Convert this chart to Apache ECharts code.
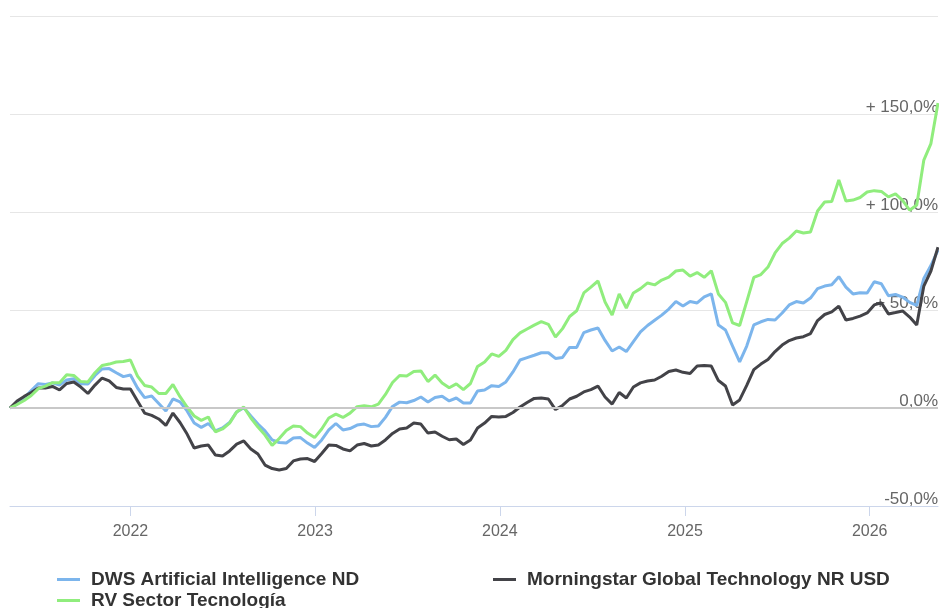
<!DOCTYPE html>
<html>
<head>
<meta charset="utf-8">
<script src="https://cdn.jsdelivr.net/npm/echarts@6/dist/echarts.min.js"></script>
<style>
html,body{margin:0;padding:0;background:#fff;}
#chart{width:939px;height:608px;}
</style>
</head>
<body>
<div id="chart"></div>
<script>
// Biweekly observation dates
var dates = [
"2021-05-08","2021-05-22","2021-06-05","2021-06-19","2021-07-03","2021-07-17","2021-07-31","2021-08-14","2021-08-28","2021-09-11",
"2021-09-25","2021-10-09","2021-10-23","2021-11-06","2021-11-20","2021-12-04","2021-12-18","2022-01-01","2022-01-15","2022-01-29",
"2022-02-12","2022-02-26","2022-03-12","2022-03-26","2022-04-09","2022-04-23","2022-05-07","2022-05-21","2022-06-04","2022-06-18",
"2022-07-02","2022-07-16","2022-07-30","2022-08-13","2022-08-27","2022-09-10","2022-09-24","2022-10-08","2022-10-22","2022-11-05",
"2022-11-19","2022-12-03","2022-12-17","2022-12-31","2023-01-14","2023-01-28","2023-02-11","2023-02-25","2023-03-11","2023-03-25",
"2023-04-08","2023-04-22","2023-05-06","2023-05-20","2023-06-03","2023-06-17","2023-07-01","2023-07-15","2023-07-29","2023-08-12",
"2023-08-26","2023-09-09","2023-09-23","2023-10-07","2023-10-21","2023-11-04","2023-11-18","2023-12-02","2023-12-16","2023-12-30",
"2024-01-13","2024-01-27","2024-02-10","2024-02-24","2024-03-09","2024-03-23","2024-04-06","2024-04-20","2024-05-04","2024-05-18",
"2024-06-01","2024-06-15","2024-06-29","2024-07-13","2024-07-27","2024-08-10","2024-08-24","2024-09-07","2024-09-21","2024-10-05",
"2024-10-19","2024-11-02","2024-11-16","2024-11-30","2024-12-14","2024-12-28","2025-01-11","2025-01-25","2025-02-08","2025-02-22",
"2025-03-08","2025-03-22","2025-04-05","2025-04-19","2025-05-03","2025-05-17","2025-05-31","2025-06-14","2025-06-28","2025-07-12",
"2025-07-26","2025-08-09","2025-08-23","2025-09-06","2025-09-20","2025-10-04","2025-10-18","2025-11-01","2025-11-15","2025-11-29",
"2025-12-13","2025-12-27","2026-01-10","2026-01-24","2026-02-07","2026-02-21","2026-03-07","2026-03-21","2026-04-04","2026-04-18",
"2026-05-02","2026-05-16"
];

var seriesNames = ["DWS Artificial Intelligence ND", "Morningstar Global Technology NR USD", "RV Sector Tecnología"];

var dwsValues = [
0,2.0,5.1,8.9,12.4,12.0,12.8,11.7,14.3,14.9,
12.4,12.2,16.6,19.9,20.1,18.0,16.0,16.8,10.2,5.3,
6.1,2.3,-1.5,4.6,3.1,-1.5,-7.7,-9.9,-7.9,-11.7,
-10.2,-7.4,-2.0,0.2,-4.1,-8.2,-11.7,-16.3,-17.6,-17.9,
-15.3,-15.1,-17.9,-20.2,-16.3,-11.2,-7.9,-11.2,-10.5,-8.7,
-8.2,-9.5,-9.2,-4.8,0.8,3.0,2.7,3.8,5.6,3.1,
5.4,6.0,3.6,5.1,2.6,2.6,8.7,9.2,11.4,11.0,
13.3,18.4,24.5,25.7,26.9,28.2,28.2,25.3,25.8,30.9,
30.9,38.5,39.8,40.8,34.5,29.1,31.1,28.8,33.9,38.8,
42.1,44.8,47.4,50.5,54.3,52.0,54.3,53.6,56.7,58.2,
42.3,39.8,31.6,23.5,31.6,42.4,44.0,45.2,44.9,48.5,
52.6,54.3,53.6,56.1,60.9,62.2,62.9,67.0,61.7,58.2,
58.8,58.7,64.4,63.4,57.3,57.9,56.6,53.9,52.4,66.1,
72.7,80.6
];

var msValues = [
0,3.6,5.9,7.9,10.2,10.2,11.0,9.2,12.5,13.3,
10.7,7.4,11.7,15.3,13.8,10.5,9.7,9.7,3.6,-2.6,
-3.8,-5.6,-8.9,-2.6,-7.4,-13.3,-20.4,-19.4,-18.9,-24.0,
-24.5,-21.9,-18.4,-16.8,-20.9,-23.5,-29.1,-30.9,-31.6,-30.9,
-27.0,-26.0,-25.8,-27.3,-23.2,-18.9,-19.1,-20.9,-21.9,-18.9,
-18.1,-19.4,-18.9,-16.3,-13.0,-10.7,-10.2,-7.7,-8.2,-12.8,
-12.2,-14.4,-16.2,-15.8,-18.6,-16.3,-10.2,-7.7,-4.3,-4.6,
-4.3,-2.3,0.5,2.8,4.9,5.1,4.6,-0.8,1.3,4.6,
6.0,8.2,9.4,11.2,5.6,2.0,7.9,5.1,10.7,12.8,
13.8,14.3,16.2,18.6,19.4,18.2,17.6,21.4,21.7,21.4,
14.0,11.2,1.5,4.1,11.5,19.6,22.4,24.7,28.8,32.1,
34.4,35.7,36.4,38.0,44.6,47.7,49.0,52.0,44.9,45.7,
46.9,48.5,52.6,53.7,48.0,48.7,49.5,46.4,42.3,62.2,
69.9,82.1
];

var rvValues = [
0,1.8,3.8,6.4,9.9,11.2,12.9,12.9,17.0,16.6,
13.5,13.3,18.0,21.7,22.4,23.5,23.7,24.5,16.3,11.5,
10.7,7.4,7.4,12.0,5.8,0.5,-4.1,-6.3,-4.6,-12.2,
-10.7,-7.7,-2.0,0.5,-5.1,-9.7,-13.8,-19.1,-15.6,-11.5,
-9.2,-9.5,-12.8,-15.1,-10.7,-5.1,-3.1,-4.8,-2.6,0.7,
1.2,0.6,2.0,6.9,13.0,16.6,16.3,18.6,18.9,13.5,
16.8,12.8,10.3,12.3,9.4,12.5,21.2,23.5,27.6,26.3,
29.4,34.9,38.3,40.3,42.3,44.1,42.7,36.2,40.5,46.7,
49.6,58.7,61.7,64.8,54.1,47.4,58.2,51.0,58.7,60.9,
63.8,62.8,65.3,66.8,69.9,70.4,67.3,69.1,66.7,70.0,
58.2,53.9,43.4,42.1,54.3,66.6,68.1,71.9,79.1,83.9,
86.7,90.3,89.3,89.8,100.5,105.1,105.4,116.3,105.6,106.1,
107.4,110.2,110.9,110.5,107.7,109.2,105.9,100.9,103.6,126.5,
134.9,155.6
];

var yTicks = [-50, 0, 50, 100, 150, 200];
var colors = ["#7cb5ec", "#434348", "#90ed7d"];

function pairs(vals) {
  return dates.map(function (d, i) { return [d, vals[i]]; });
}

function fmtPct(v) {
  if (v >= 200) return "";
  var s = v.toFixed(1).replace(".", ",") + "%";
  return v > 0 ? "+ " + s : s;
}

var chart = echarts.init(document.getElementById("chart"), null, {renderer: "canvas"});
var FONT = "'Liberation Sans', Arial, Helvetica, sans-serif";

function legendItem(name, left, top) {
  return {
    data: [name],
    left: left, top: top,
    padding: 0,
    icon: "rect",
    itemWidth: 23, itemHeight: 3,
    itemGap: 0,
    selectedMode: false,
    textStyle: {fontFamily: FONT, fontSize: 19, fontWeight: "bold", color: "#333333", padding: [0, 0, 0, 6]}
  };
}

chart.setOption({
  animation: false,
  color: colors,
  backgroundColor: "#ffffff",
  grid: {left: 10, right: 1, top: 16, bottom: 102, containLabel: false, outerBoundsMode: "none"},
  legend: [
    legendItem(seriesNames[0], 57, 570),
    legendItem(seriesNames[1], 493, 570),
    legendItem(seriesNames[2], 57, 591)
  ],
  xAxis: {
    type: "time",
    min: dates[0],
    max: dates[dates.length - 1],
    splitNumber: 5,
    minInterval: 365 * 24 * 3600 * 1000,
    axisLine: {show: true, onZero: false, lineStyle: {color: "#ccd6eb", width: 1}},
    axisTick: {show: true, length: 10, lineStyle: {color: "#ccd6eb"}},
    splitLine: {show: false},
    axisLabel: {
      formatter: "{yyyy}",
      color: "#666666",
      fontFamily: FONT,
      fontSize: 16,
      margin: 18,
      showMinLabel: false,
      showMaxLabel: false
    }
  },
  yAxis: {
    type: "value",
    position: "right",
    min: -50, max: 200, interval: 50,
    axisLine: {show: false},
    axisTick: {show: false},
    splitLine: {show: true, lineStyle: {color: "#e6e6e6", width: 1}},
    axisLabel: {
      inside: true,
      margin: 0,
      verticalAlign: "bottom",
      lineHeight: 14,
      color: "#666666",
      fontFamily: FONT,
      fontSize: 17,
      formatter: fmtPct
    }
  },
  series: [
    {
      name: seriesNames[0], type: "line", showSymbol: false, symbol: "none",
      data: pairs(dwsValues), lineStyle: {width: 3, color: colors[0]},
      markLine: {
        silent: true, symbol: "none", label: {show: false},
        lineStyle: {color: "#c8c8c8", width: 2, type: "solid"},
        data: [{yAxis: yTicks[1]}]
      }
    },
    {
      name: seriesNames[1], type: "line", showSymbol: false, symbol: "none",
      data: pairs(msValues), lineStyle: {width: 3, color: colors[1]}
    },
    {
      name: seriesNames[2], type: "line", showSymbol: false, symbol: "none",
      data: pairs(rvValues), lineStyle: {width: 3, color: colors[2]}
    }
  ]
});
</script>
</body>
</html>
